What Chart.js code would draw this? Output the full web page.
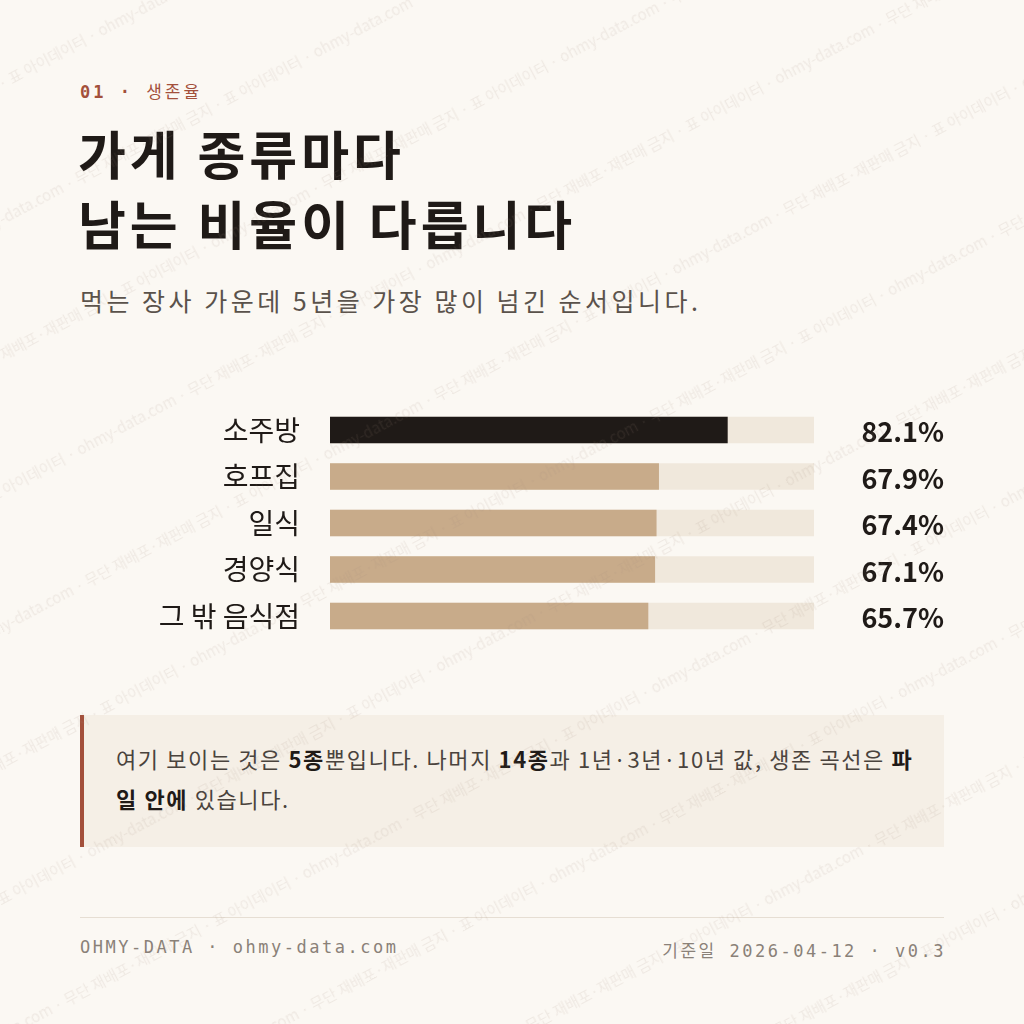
<!DOCTYPE html>
<html><head><meta charset="utf-8">
<script src="https://cdn.jsdelivr.net/npm/chart.js@4/dist/chart.umd.min.js"></script>
<style>
body{margin:0;width:1024px;height:1024px;background:#fbf8f3;font-family:"Noto Sans CJK KR","Noto Sans",sans-serif;position:relative;overflow:hidden;color:#1f1a17}
.abs{position:absolute}
.mono{font-family:"DejaVu Sans Mono","Liberation Mono",monospace}
#wm{position:absolute;left:-300px;top:-300px;width:1700px;height:1700px;transform:rotate(-28deg);color:rgba(160,140,120,0.13);font-size:15px;line-height:120px;white-space:nowrap;pointer-events:none;z-index:5}
</style></head><body>
<div class="abs mono" style="left:80px;top:78px;font-size:17px;color:#a3503b;letter-spacing:3px;font-weight:bold">01 · <span style="font-family:'Noto Sans CJK KR';font-weight:normal">생존율</span></div>
<div class="abs" style="left:78px;top:118px;font-size:52px;font-weight:bold;line-height:70px;letter-spacing:4px">가게 종류마다<br>남는 비율이 다릅니다</div>
<div class="abs" style="left:80px;top:282px;font-size:25px;color:#5a524b;letter-spacing:3.5px">먹는 장사 가운데 5년을 가장 많이 넘긴 순서입니다.</div>
<div class="abs" style="left:80px;top:368px;width:864px;height:310px"><canvas id="c" width="864" height="310"></canvas></div>
<div class="abs" style="left:80px;top:715px;height:132px;background:#f5efe6;border-left:4px solid #a3503b;box-sizing:border-box;width:864px;font-size:22px;color:#4a433d;line-height:40px;padding:23px 24px 0 32px;letter-spacing:1.6px">여기 보이는 것은 <b style="color:#1f1a17">5종</b>뿐입니다. 나머지 <b style="color:#1f1a17">14종</b>과 1년·3년·10년 값, 생존 곡선은 <b style="color:#1f1a17">파일 안에</b> 있습니다.</div>
<div class="abs" style="left:80px;top:917px;width:864px;height:1px;background:#e6ded3"></div>
<div class="abs mono" style="left:80px;top:937px;font-size:17px;color:#8a8178;letter-spacing:2.5px">OHMY-DATA · ohmy-data.com</div>
<div class="abs mono" style="right:78px;top:937px;font-size:17px;color:#8a8178;letter-spacing:2.5px"><span style="font-family:'Noto Sans CJK KR'">기준일</span> 2026-04-12 · v0.3</div>
<div id="wm"></div>
<script>
const categories=["소주방","호프집","일식","경양식","그 밖 음식점"];
const survival=[82.1,67.9,67.4,67.1,65.7];
const track=[100,100,100,100,100];
const barColors=["#1f1a17","#c8ab8a","#c8ab8a","#c8ab8a","#c8ab8a"];
let w="";for(let i=0;i<16;i++){let s="";for(let j=0;j<8;j++)s+="아이데이터 · ohmy-data.com · 무단 재배포·재판매 금지 · 표 ";w+="<div style='margin-left:"+(i%2?-180:0)+"px'>"+s+"</div>";}
document.getElementById("wm").innerHTML=w;
const valPlugin={id:"vals",afterDatasetsDraw(ch){const c=ch.ctx,m=ch.getDatasetMeta(0);c.save();c.font="bold 27px 'Noto Sans CJK KR'";c.fillStyle="#1f1a17";c.textAlign="right";c.textBaseline="middle";
m.data.forEach((b,i)=>c.fillText(survival[i].toFixed(1)+"%",ch.width,b.y+2));c.restore();}};
new Chart(document.getElementById("c"),{type:"bar",
data:{labels:categories,datasets:[
{data:survival,backgroundColor:barColors,barThickness:26,grouped:false,order:0},
{data:track,backgroundColor:"#f0e8dc",barThickness:26,grouped:false,order:1}]},
options:{indexAxis:"y",responsive:false,animation:false,
layout:{padding:{right:130,top:0,bottom:0}},
plugins:{legend:{display:false},tooltip:{enabled:false}},
scales:{x:{display:false,min:0,max:100},
y:{grid:{display:false},border:{display:false},afterFit(a){a.width=250;},
ticks:{color:"#1f1a17",font:{size:28,family:"Noto Sans CJK KR"},padding:22}}}},
plugins:[valPlugin]});
</script></body></html>
